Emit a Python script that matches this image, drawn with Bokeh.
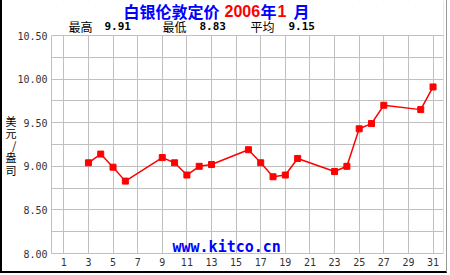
from bokeh.plotting import figure
from bokeh.models import FixedTicker, NumeralTickFormatter, Range1d, Label, BoxAnnotation, Span
from bokeh.embed import file_html
from bokeh.resources import INLINE

days = [3, 4, 5, 6, 9, 10, 11, 12, 13, 16, 17, 18, 19, 20, 23, 24, 25, 26, 27, 30, 31]
prices = [9.04, 9.14, 8.99, 8.83, 9.10, 9.04, 8.90, 9.00, 9.02, 9.19, 9.04, 8.88, 8.90, 9.09,
          8.94, 9.00, 9.43, 9.49, 9.70, 9.65, 9.91]
x_ticks = list(range(1, 32, 2))
y_label_ticks = [8.0, 8.5, 9.0, 9.5, 10.0, 10.5]
y_grid_ticks = [8.0, 8.25, 8.5, 8.75, 9.0, 9.25, 9.5, 9.75, 10.0, 10.25, 10.5]
title_parts = ["白银伦敦定价", "2006", "年", "1", "月"]
stat_names = ["最高", "最低", "平均"]
stat_values = ["9.91", "8.83", "9.15"]
y_unit_chars = ["美", "元", "/", "盎", "司"]
watermark = "www.kitco.cn"

W, H = 447, 273
FL, FB = 51, 253          # plot-area left / bottom (page px)
PLOT_TOP = 35             # plot-area top (page px)
X0, X1 = 0, 31.85
Y0, Y1 = 8.0, 10.5
# the frame extends to the top of the canvas so header texts can live inside it
y_top = Y0 + (Y1 - Y0) * FB / (FB - PLOT_TOP)


def lab(text, px, py, **kw):
    p.add_layout(Label(x=px - FL, y=FB - py, x_units="screen", y_units="screen", text=text,
                       text_baseline="middle", **kw))


p = figure(width=W, height=H, output_backend="svg", toolbar_location=None,
           x_range=Range1d(X0, X1), y_range=Range1d(Y0, y_top),
           min_border_left=FL - 2, min_border_right=W - (443 - 2), min_border_top=0,
           min_border_bottom=H - FB, background_fill_color="white", border_fill_color="white")
p.styles = {"border-left": "2px solid black", "border-bottom": "2px solid black",
            "border-right": "1px solid #999999"}
p.outline_line_color = None

p.xaxis.ticker = FixedTicker(ticks=x_ticks)
p.yaxis.ticker = FixedTicker(ticks=y_label_ticks)
p.yaxis.bounds = (Y0, Y1)
p.yaxis.formatter = NumeralTickFormatter(format="0.00")
p.xgrid.ticker = FixedTicker(ticks=x_ticks)
p.ygrid.ticker = FixedTicker(ticks=y_grid_ticks)
for g in (p.xgrid, p.ygrid):
    g.grid_line_color = "#c0c0c0"
    g.grid_line_width = 1
for ax in (p.xaxis, p.yaxis):
    ax.axis_line_color = "#c0c0c0"
    ax.major_tick_line_color = None
    ax.minor_tick_line_color = None
    ax.major_label_text_font = "DejaVu Sans Mono"
    ax.major_label_text_font_size = "10px"
    ax.major_label_text_color = "#333333"
    ax.major_label_standoff = 4
    ax.major_tick_out = 0
    ax.major_tick_in = 0

# vertical unit label; leading blank lines push it down to the plot-area middle
p.yaxis.axis_label = "\n".join(["\u3000"] * 3 + y_unit_chars)
p.yaxis.axis_label_orientation = "horizontal"
p.yaxis.axis_label_text_font = "Noto Sans CJK SC"
p.yaxis.axis_label_text_font_size = "11px"
p.yaxis.axis_label_text_font_style = "normal"
p.yaxis.axis_label_text_color = "black"
p.yaxis.axis_label_text_line_height = 0.76
p.yaxis.axis_label_standoff = -2

# right edge of the plot area
p.add_layout(Span(location=X1, dimension="height", line_color="#c0c0c0", line_width=1))
# blank header area above the plot
p.add_layout(BoxAnnotation(bottom=Y1, fill_color="white", fill_alpha=1.0, line_color=None))
# top edge of the plot area
p.add_layout(Span(location=Y1, dimension="width", line_color="#c0c0c0", line_width=1))

# watermark
lab(watermark, 172, 246, text_font="DejaVu Sans Mono", text_font_style="bold",
    text_font_size="15px", text_color="#0000ff", text_align="left")

p.line(days, prices, line_color="#ff0000", line_width=1.5)
p.scatter(days, prices, marker="square", size=6, fill_color="#ff0000", line_color="#ff0000")

title_x = [123, 224, 260, 277, 293]
title_col = ["#0000ff", "#ff0000", "#0000ff", "#ff0000", "#0000ff"]
for t, xx, c in zip(title_parts, title_x, title_col):
    font = "Noto Sans CJK SC" if not t.isdigit() else "Liberation Sans"
    lab(t, xx, 10, text_font=font, text_font_style="bold", text_font_size="16px",
        text_color=c, text_align="left")

stat_name_x = [68, 162, 250]
stat_val_x = [104, 199, 288]
for n, v, xn, xv in zip(stat_names, stat_values, stat_name_x, stat_val_x):
    lab(n, xn, 25.5, text_font="Noto Sans CJK SC", text_font_size="12px",
        text_color="black", text_align="left")
    lab(v, xv, 25.5, text_font="DejaVu Sans Mono", text_font_style="bold",
        text_font_size="11px", text_color="black", text_align="left")

open("out.html", "w").write(file_html(p, INLINE))
